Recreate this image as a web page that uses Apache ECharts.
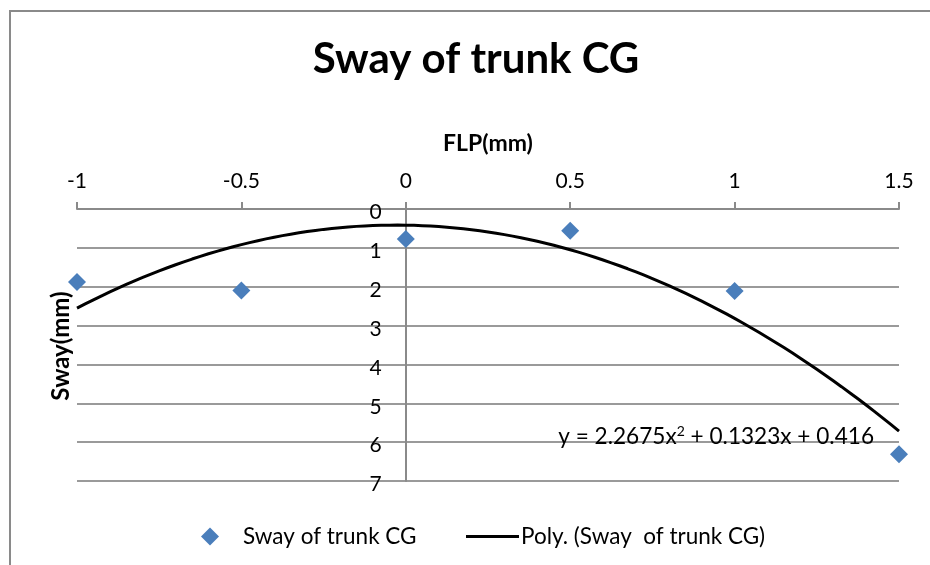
<!DOCTYPE html>
<html>
<head>
<meta charset="utf-8">
<script src="https://cdn.jsdelivr.net/npm/echarts@6/dist/echarts.min.js"></script>
<style>
  html, body { margin: 0; padding: 0; background: #fff; }
  #chart { width: 930px; height: 565px; }
</style>
</head>
<body>
<div id="chart"></div>
<script>
// Measured sway of the trunk centre of gravity for each FLP setting (mm)
const flp = [-1, -0.5, 0, 0.5, 1, 1.5];
const sway = [1.88, 2.1, 0.77, 0.56, 2.11, 6.31];

// Second-order polynomial trendline: y = a*x^2 + b*x + c
const trendCoef = [2.2675, 0.1323, 0.416];

// Axis ranges / tick steps
const xRange = [-1, 1.5];
const xStep = 0.5;
const yRange = [0, 7];
const yStep = 1;

const titleText = 'Sway of trunk CG';
const xName = 'FLP(mm)';
const yName = 'Sway(mm)';
const seriesName = 'Sway of trunk CG';
const trendName = 'Poly. (Sway  of trunk CG)';

const FONT = 'Lato, "Open Sans", sans-serif';

// Plot area geometry
const GRID = { left: 77, right: 31, top: 209, bottom: 84 };
const plotWidth = 930 - GRID.left - GRID.right;
// The vertical axis sits where FLP = 0
const yAxisShift = (0 - xRange[0]) / (xRange[1] - xRange[0]) * plotWidth;

// Sample the trendline across the x range
const trendData = [];
const steps = 100;
for (let i = 0; i <= steps; i++) {
  const x = xRange[0] + (xRange[1] - xRange[0]) * i / steps;
  const y = trendCoef[0] * x * x + trendCoef[1] * x + trendCoef[2];
  trendData.push([x, y]);
}
const scatterData = flp.map((x, i) => [x, sway[i]]);

const eqParts = [
  '{t|y = ' + trendCoef[0] + 'x}',
  '{s|2}',
  '{t| + ' + trendCoef[1] + 'x + ' + trendCoef[2] + '}'
].join('');

const chart = echarts.init(document.getElementById('chart'), null, { renderer: 'canvas' });

chart.setOption({
  backgroundColor: '#fff',
  animation: false,
  grid: GRID,
  xAxis: {
    type: 'value',
    position: 'top',
    min: xRange[0],
    max: xRange[1],
    interval: xStep,
    name: xName,
    nameLocation: 'middle',
    nameGap: 54,
    nameTextStyle: { fontFamily: FONT, fontSize: 23, fontWeight: 'bold', color: '#000' },
    axisLine: { onZero: false, lineStyle: { color: '#8a8a8a', width: 2 } },
    axisTick: { show: true, inside: false, length: 7, lineStyle: { color: '#8a8a8a', width: 2 } },
    axisLabel: { fontFamily: FONT, fontSize: 21, color: '#000', margin: 17, showMinLabel: true, showMaxLabel: true },
    splitLine: { show: false }
  },
  yAxis: {
    type: 'value',
    inverse: true,
    min: yRange[0],
    max: yRange[1],
    interval: yStep,
    offset: -yAxisShift,
    axisLine: { show: true, onZero: false, lineStyle: { color: '#8a8a8a', width: 2 } },
    axisTick: { show: false },
    axisLabel: {
      margin: 24,
      formatter: '{v|{value}}',
      rich: { v: { fontFamily: FONT, fontSize: 21, color: '#000', padding: [7, 0, 0, 0] } }
    },
    splitLine: { show: true, lineStyle: { color: '#9a9a9a', width: 2 } }
  },
  legend: [
    {
      data: [{ name: seriesName, icon: 'diamond' }],
      left: 196,
      top: 520,
      itemWidth: 18,
      itemHeight: 18,
      textStyle: { fontFamily: FONT, fontSize: 22.5, color: '#000', padding: [0, 0, 0, 19] }
    },
    {
      data: [{ name: trendName, icon: 'rect' }],
      left: 461,
      top: 520,
      itemWidth: 53,
      itemHeight: 3,
      textStyle: { fontFamily: FONT, fontSize: 22.5, color: '#000', padding: [0, 0, 0, -3] }
    }
  ],
  graphic: [
    {
      type: 'rect',
      silent: true,
      shape: { x: 10, y: 11, width: 1000, height: 1000 },
      style: { fill: 'none', stroke: '#8a8a8a', lineWidth: 2 },
      z: -1
    },
    {
      type: 'text',
      x: 476,
      y: 59,
      style: {
        text: titleText,
        fontFamily: FONT,
        fontSize: 42,
        fontWeight: 'bold',
        fill: '#000',
        align: 'center',
        verticalAlign: 'middle'
      }
    },
    {
      type: 'text',
      x: 61,
      y: 346,
      rotation: Math.PI / 2,
      style: {
        text: yName,
        fontFamily: FONT,
        fontSize: 24,
        fontWeight: 'bold',
        fill: '#000',
        align: 'center',
        verticalAlign: 'middle'
      }
    },
    {
      type: 'text',
      x: 874,
      y: 437,
      style: {
        text: eqParts,
        align: 'right',
        verticalAlign: 'middle',
        rich: {
          t: { fontFamily: FONT, fontSize: 22.6, fill: '#000', lineHeight: 26 },
          s: { fontFamily: FONT, fontSize: 14, fill: '#000', verticalAlign: 'top', lineHeight: 26, padding: [0, 0, 8, 0] }
        }
      },
      z: 10
    }
  ],
  series: [
    {
      name: seriesName,
      type: 'scatter',
      data: scatterData,
      symbol: 'diamond',
      symbolSize: 18,
      itemStyle: { color: '#4a7ebb', opacity: 1 },
      z: 3
    },
    {
      name: trendName,
      type: 'line',
      data: trendData,
      showSymbol: false,
      smooth: false,
      color: '#000',
      lineStyle: { color: '#000', width: 3 },
      itemStyle: { color: '#000' },
      z: 4
    }
  ]
});
</script>
</body>
</html>
